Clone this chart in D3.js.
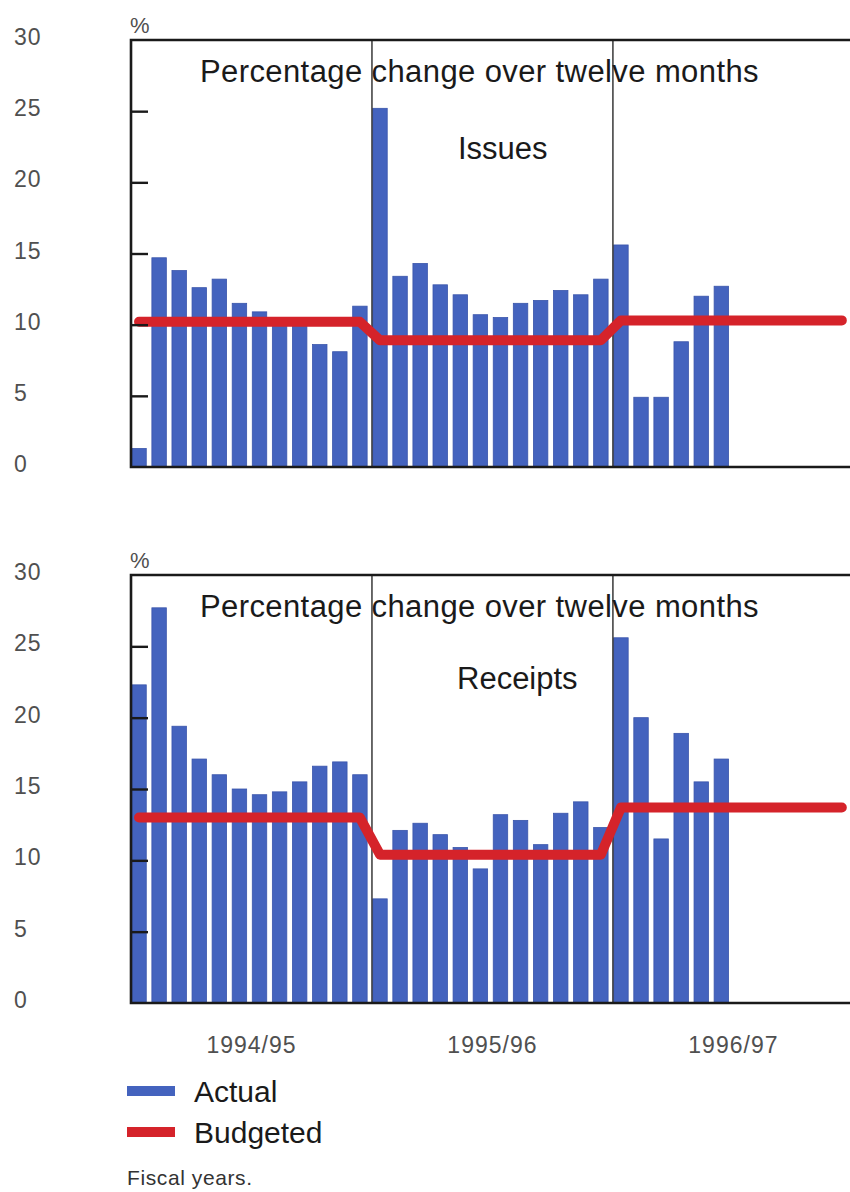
<!DOCTYPE html>
<html>
<head>
<meta charset="utf-8">
<script src="https://cdn.jsdelivr.net/npm/d3@7"></script>
<style>
  html, body { margin: 0; padding: 0; background: #ffffff; }
  svg { display: block; font-family: "Liberation Sans", Arial, Helvetica, sans-serif; }
</style>
</head>
<body>
<svg id="chart" width="850" height="1192"></svg>
<script>
// Fiscal years shown on the horizontal axis
const fiscalYears = ["1994/95", "1995/96", "1996/97"];
const monthsPerYear = 12;

// Percentage change over twelve months, monthly (actual outturns)
const issuesActual = [
  1.3, 14.7, 13.8, 12.6, 13.2, 11.5, 10.9, 10.0, 9.9, 8.6, 8.1, 11.3,
  25.2, 13.4, 14.3, 12.8, 12.1, 10.7, 10.5, 11.5, 11.7, 12.4, 12.1, 13.2,
  15.6, 4.9, 4.9, 8.8, 12.0, 12.7
];
const receiptsActual = [
  22.3, 27.7, 19.4, 17.1, 16.0, 15.0, 14.6, 14.8, 15.5, 16.6, 16.9, 16.0,
  7.3, 12.1, 12.6, 11.8, 10.9, 9.4, 13.2, 12.8, 11.1, 13.3, 14.1, 12.3,
  25.6, 20.0, 11.5, 18.9, 15.5, 17.1
];

// Budgeted growth for each fiscal year
const issuesBudget = [10.2, 8.9, 10.3];
const receiptsBudget = [13.0, 10.4, 13.7];

// Axis ticks
const yLabelTicks = [0, 5, 10, 15, 20, 25, 30];
const yInnerTicks = [5, 10, 15, 20, 25];

const panelTitle = "Percentage change over twelve months";
const legendItems = ["Actual", "Budgeted"];
const footnote = "Fiscal years.";

// Month keys, e.g. "1994/95-1"
const monthKeys = fiscalYears.flatMap(fy => d3.range(1, monthsPerYear + 1).map(m => fy + "-" + m));

const BLUE = "#4463be";
const BLUE_EDGE = "#3a55ab";
const RED = "#d5232a";
const INK = "#1a1a1a";
const GREY = "#505050";

const svg = d3.select("#chart");
svg.append("rect").attr("width", 850).attr("height", 1192).attr("fill", "#ffffff");

const left = 131;
const plotWidth = 36 * 20.08;

const x = d3.scaleBand().domain(monthKeys).range([left, left + plotWidth]).padding(0);
const xYear = d3.scaleBand().domain(fiscalYears).range([left, left + plotWidth]).padding(0);
const barWidth = x.step() * 0.72;

function drawPanel(top, bottom, actual, budget, subtitle, subtitleX, subtitleY) {
  const g = svg.append("g");
  const y = d3.scaleLinear().domain([0, 30]).range([bottom, top]);

  // bars
  g.append("g").selectAll("rect")
    .data(actual)
    .join("rect")
    .attr("x", (d, i) => x(monthKeys[i]) + 0.8)
    .attr("width", barWidth)
    .attr("y", d => y(d))
    .attr("height", d => y(0) - y(d))
    .attr("fill", BLUE)
    .attr("stroke", BLUE_EDGE)
    .attr("stroke-width", 0.8);

  // fiscal-year dividers
  g.append("g").selectAll("line")
    .data(fiscalYears.slice(1))
    .join("line")
    .attr("x1", d => xYear(d)).attr("x2", d => xYear(d))
    .attr("y1", top).attr("y2", bottom)
    .attr("stroke", "#2a2a2a").attr("stroke-width", 1.4);

  // budgeted line, one level per fiscal year, through month centres
  const budgetMonthly = monthKeys.map((k, i) => ({ k, v: budget[Math.floor(i / monthsPerYear)] }));
  const line = d3.line()
    .x(d => x(d.k) + 0.8 + barWidth / 2)
    .y(d => y(d.v));
  g.append("path")
    .datum(budgetMonthly)
    .attr("d", line)
    .attr("fill", "none")
    .attr("stroke", RED)
    .attr("stroke-width", 10)
    .attr("stroke-linejoin", "round")
    .attr("stroke-linecap", "round");

  // frame: top, left and bottom
  g.append("path")
    .attr("d", `M${850 + 10},${top} H${left} V${bottom} H${850 + 10}`)
    .attr("fill", "none")
    .attr("stroke", "#1a1a1a")
    .attr("stroke-width", 2.6);

  // inner ticks on the left edge
  const axis = d3.axisRight(y).tickValues(yInnerTicks).tickSize(17).tickFormat("");
  const ax = g.append("g").attr("transform", `translate(${left},0)`).call(axis);
  ax.select(".domain").remove();
  ax.selectAll(".tick line").attr("stroke", "#1a1a1a").attr("stroke-width", 2.4);

  // value labels on the far left
  g.append("g").selectAll("text")
    .data(yLabelTicks)
    .join("text")
    .attr("x", 14)
    .attr("y", d => y(d) - 3)
    .attr("dy", "0.35em")
    .attr("font-size", 23)
    .attr("letter-spacing", 1)
    .attr("fill", GREY)
    .text(d => d);

  // unit
  g.append("text")
    .attr("x", 130).attr("y", top - 7)
    .attr("font-size", 22)
    .attr("fill", GREY)
    .text("%");

  // titles
  g.append("text")
    .attr("x", 200).attr("y", top + 42)
    .attr("font-size", 31)
    .attr("letter-spacing", 0.4)
    .attr("fill", INK)
    .text(panelTitle);
  g.append("text")
    .attr("x", subtitleX).attr("y", subtitleY)
    .attr("font-size", 31)
    .attr("fill", INK)
    .text(subtitle);

  return y;
}

drawPanel(40, 467, issuesActual, issuesBudget, "Issues", 458, 159);
drawPanel(575, 1003, receiptsActual, receiptsBudget, "Receipts", 457, 689);

// fiscal-year labels
svg.append("g").selectAll("text")
  .data(fiscalYears)
  .join("text")
  .attr("x", d => xYear(d) + xYear.bandwidth() / 2)
  .attr("y", 1053)
  .attr("text-anchor", "middle")
  .attr("font-size", 23)
  .attr("letter-spacing", 1)
  .attr("fill", GREY)
  .text(d => d);

// legend
const legendColors = [BLUE, RED];
const lg = svg.append("g");
legendItems.forEach((name, i) => {
  const cy = 1091 + i * 41;
  lg.append("rect")
    .attr("x", 127).attr("y", cy - 5)
    .attr("width", 48).attr("height", 10)
    .attr("fill", legendColors[i]);
  lg.append("text")
    .attr("x", 194).attr("y", cy + 11)
    .attr("font-size", 30)
    .attr("fill", INK)
    .text(name);
});

// note
svg.append("text")
  .attr("x", 127).attr("y", 1185)
  .attr("font-size", 21)
  .attr("letter-spacing", 0.6)
  .attr("fill", "#333")
  .text(footnote);
</script>
</body>
</html>
